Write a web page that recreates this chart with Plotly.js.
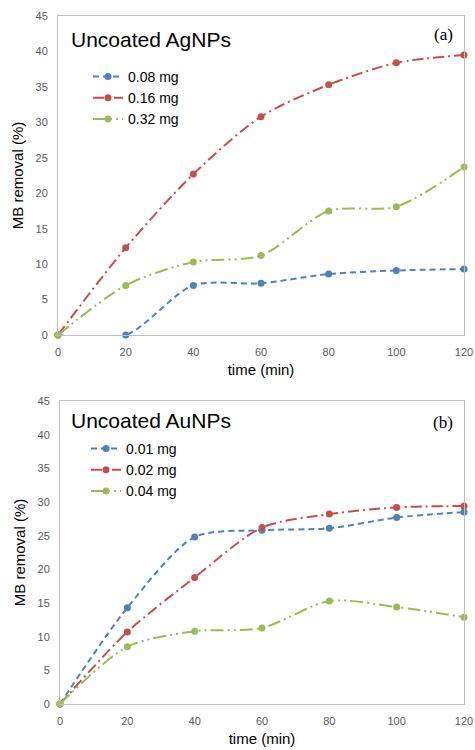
<!DOCTYPE html>
<html>
<head>
<meta charset="utf-8">
<script src="https://cdn.plot.ly/plotly-3.0.1.min.js"></script>
<style>html,body{margin:0;padding:0;background:#fff;}#chart{width:475px;height:750px;}</style>
</head>
<body>
<div id="chart"></div>
<script>
const time = [0, 20, 40, 60, 80, 100, 120];
const xTicks = [0, 20, 40, 60, 80, 100, 120];
const yTicks = [0, 5, 10, 15, 20, 25, 30, 35, 40, 45];

const agNames = ['0.08 mg', '0.16 mg', '0.32 mg'];
const ag008 = [0, 0, 7.0, 7.3, 8.6, 9.1, 9.3];
const ag016 = [0, 12.3, 22.7, 30.8, 35.3, 38.4, 39.5];
const ag032 = [0, 7.0, 10.3, 11.2, 17.5, 18.1, 23.7];

const auNames = ['0.01 mg', '0.02 mg', '0.04 mg'];
const au001 = [0, 14.3, 24.8, 25.8, 26.1, 27.7, 28.5];
const au002 = [0, 10.7, 18.8, 26.2, 28.2, 29.2, 29.4];
const au004 = [0, 8.5, 10.8, 11.3, 15.3, 14.4, 12.9];

const colors = ['#4F81BD', '#C0504D', '#9BBB59'];
const dashes = ['6px,4px', '11px,4px,2px,4px', '13px,4px,2px,4px,2px,4px'];

function mk(y, name, i, xa, ya, lg) {
  return {
    x: time, y: y, name: name, type: 'scatter', mode: 'lines+markers',
    xaxis: xa, yaxis: ya, legend: lg, cliponaxis: false,
    line: {color: colors[i], width: 2, dash: dashes[i], shape: 'spline', smoothing: 0.8},
    marker: {color: colors[i], size: 7}
  };
}

const data = [
  mk(ag008, agNames[0], 0, 'x', 'y', 'legend'),
  mk(ag016, agNames[1], 1, 'x', 'y', 'legend'),
  mk(ag032, agNames[2], 2, 'x', 'y', 'legend'),
  mk(au001, auNames[0], 0, 'x2', 'y2', 'legend2'),
  mk(au002, auNames[1], 1, 'x2', 'y2', 'legend2'),
  mk(au004, auNames[2], 2, 'x2', 'y2', 'legend2')
];

const tickFont = {family: 'Liberation Sans, Arial, sans-serif', size: 11, color: '#595959'};
const titleFont = {family: 'Liberation Sans, Arial, sans-serif', size: 15, color: '#000'};
function xax(domain, anchor) {
  return {domain: domain, anchor: anchor, range: [0, 120], tickvals: xTicks, ticks: '',
    ticklabelstandoff: 7,
    showgrid: false, zeroline: false, showline: true, linecolor: '#bfbfbf', linewidth: 1, mirror: true,
    tickfont: tickFont, title: {text: 'time (min)', font: titleFont, standoff: 7}, fixedrange: true};
}
function yax(domain, anchor) {
  return {domain: domain, anchor: anchor, range: [0, 45], tickvals: yTicks, ticks: '',
    ticklabelstandoff: 7,
    showgrid: false, zeroline: false, showline: true, linecolor: '#bfbfbf', linewidth: 1, mirror: true,
    tickfont: tickFont, title: {text: 'MB removal (%)', font: titleFont, standoff: 8}, fixedrange: true};
}
const legFont = {family: 'Liberation Sans, Arial, sans-serif', size: 14, color: '#000'};

const layout = {
  width: 475, height: 750,
  margin: {l: 0, r: 0, t: 0, b: 0},
  paper_bgcolor: '#fff', plot_bgcolor: '#fff',
  showlegend: true,
  xaxis: xax([58/475, 464/475], 'y'),
  yaxis: yax([1 - 335/750, 1 - 16/750], 'x'),
  xaxis2: xax([60/475, 464/475], 'y2'),
  yaxis2: yax([1 - 704/750, 1 - 401/750], 'x2'),
  legend: {x: 88/475, y: 1 - 61/750, xanchor: 'left', yanchor: 'top', bgcolor: 'rgba(0,0,0,0)', font: legFont, tracegroupgap: 0},
  legend2: {x: 86/475, y: 1 - 433/750, xanchor: 'left', yanchor: 'top', bgcolor: 'rgba(0,0,0,0)', font: legFont, tracegroupgap: 0},
  annotations: [
    {text: 'Uncoated AgNPs', x: 69/475, y: 1 - 39/750, xref: 'paper', yref: 'paper', xanchor: 'left', yanchor: 'middle', showarrow: false,
     font: {family: 'Liberation Sans, Arial, sans-serif', size: 21, color: '#000'}},
    {text: '(a)', x: 443/475, y: 1 - 35/750, xref: 'paper', yref: 'paper', xanchor: 'center', yanchor: 'middle', showarrow: false,
     font: {family: 'Liberation Serif, Times New Roman, serif', size: 17, color: '#000'}},
    {text: 'Uncoated AuNPs', x: 69/475, y: 1 - 420/750, xref: 'paper', yref: 'paper', xanchor: 'left', yanchor: 'middle', showarrow: false,
     font: {family: 'Liberation Sans, Arial, sans-serif', size: 21, color: '#000'}},
    {text: '(b)', x: 443/475, y: 1 - 422/750, xref: 'paper', yref: 'paper', xanchor: 'center', yanchor: 'middle', showarrow: false,
     font: {family: 'Liberation Serif, Times New Roman, serif', size: 17, color: '#000'}}
  ]
};

Plotly.newPlot('chart', data, layout, {displayModeBar: false, staticPlot: true});
</script>
</body>
</html>
